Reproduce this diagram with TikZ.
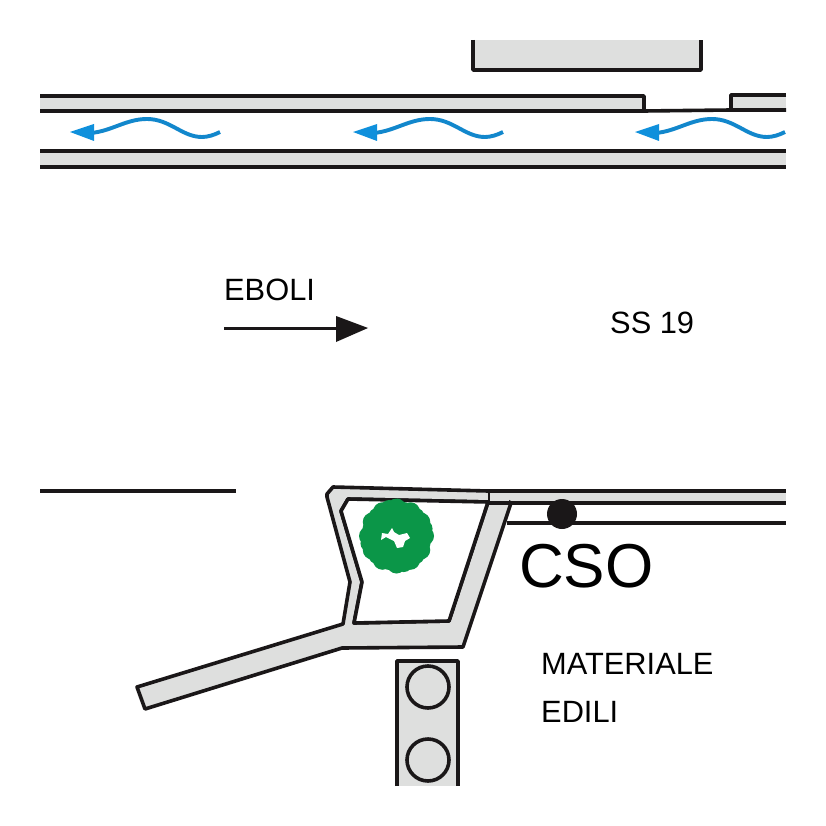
\documentclass[tikz,border=0pt]{standalone}
\usepackage{fontspec}
\setmainfont{Liberation Sans}
\definecolor{roadgray}{HTML}{DEDFDE}
\definecolor{ink}{HTML}{1A1718}
\definecolor{flow}{HTML}{1287CC}
\definecolor{flowhead}{HTML}{0F90DC}
\definecolor{bush}{HTML}{0B9648}
\tikzset{
  road/.style={fill=roadgray,draw=ink,line width=3.6pt,line join=round},
  edge/.style={draw=ink,line width=3.6pt},
  lbl/.style={anchor=base west,inner sep=0pt,text=black},
  med/.style={lbl,font=\fontsize{30.8}{30.8}\selectfont},
  wave/.style={draw=flow,line width=3.9pt},
  head/.style={fill=flowhead,draw=none},
  leaf/.style={fill=bush,draw=none}
}
\begin{document}
\begin{tikzpicture}[x=1pt,y=-1pt]
\useasboundingbox (0,0) rectangle (826,826);
\fill[white] (0,0) rectangle (826,826);
% top building
\fill[roadgray] (473,40) rectangle (701,70);
\draw[edge,line join=round] (473,40) -- (473,70) -- (701,70) -- (701,40);
% upper road
\fill[roadgray] (40,96) rectangle (644,111);
\draw[edge,line join=round] (40,96) -- (644,96) -- (644,111);
\fill[roadgray] (731,95) rectangle (786,110);
\draw[edge,line join=round] (786,95) -- (731,95) -- (731,110);
\draw[edge] (40,111) -- (644,111) -- (731,110) -- (786,110);
\fill[roadgray] (40,151) rectangle (786,167);
\draw[edge] (40,151) -- (786,151);
\draw[edge] (40,167) -- (786,167);
% flow arrows
\foreach \dx in {0,283,565}{
  \begin{scope}[xshift=\dx pt]
    \draw[wave] (91,133) .. controls (112,131) and (126,119) .. (147,119)
      .. controls (170,119) and (182,137) .. (202,137) .. controls (208,137) and (214,135) .. (220,132);
    \fill[head] (70,132) -- (94,124) -- (94,141) -- cycle;
  \end{scope}
}
% direction arrow
\draw[edge,line width=3pt] (224,328) -- (340,328);
\fill[ink] (336,316) -- (368,328) -- (336,342) -- cycle;
\node[med] (eboli) at (224,300) {EBOLI};
\node[med] (ss) at (610,333) {SS 19};
% left kerb
\draw[edge] (40,491) -- (236,491);
% side road
\draw[edge] (507,523) -- (786,523);
\fill[roadgray] (488,491) rectangle (786,503);
\draw[edge] (488,491) -- (786,491);
\draw[edge] (488,503) -- (786,503);
% island
\draw[road,even odd rule] (333,487) -- (488,491) -- (511,503) -- (463,647) -- (342,648) -- (145,709) -- (137,687) -- (343,624) -- (350,582) -- (327,497) -- (327,494) -- cycle
  (348,499) -- (488,502) -- (449,621) -- (354,623) -- (362,582) -- (341,511) -- cycle;
\fill[white] (348,499) -- (488,502) -- (449,621) -- (354,623) -- (362,582) -- (341,511) -- cycle;
\draw[edge,line join=round] (348,499) -- (488,502) -- (449,621) -- (354,623) -- (362,582) -- (341,511) -- cycle;
\fill[roadgray] (490,493) rectangle (509,501);
\draw[edge,line width=2.4pt] (489,491) -- (489,503);
\draw[edge] (488,491) -- (511,491);
\draw[edge] (488,503) -- (511,503);
% bush
\fill[leaf] (396,536) circle (30);
\foreach \a in {0,30,...,330}{
  \fill[leaf] (396.5,536) ++(\a:28) circle (9.5);
}
\foreach \a/\r in {15/26,45/27,75/28,105/26,135/27,165/28,195/26,225/27,255/28,285/26,315/27,345/28}{
  \fill[leaf] (396.5,536) ++(\a:\r) circle (9);
}
\fill[white] (381,540) -- (382,533) -- (388,534) -- (392,528) -- (394,532) -- (399,535) -- (407,533) -- (410,538) -- (405,541) -- (403,547) -- (397,548) -- (394,541) -- (386,537) -- cycle;
% traffic block
\fill[roadgray] (397,661) rectangle (458,786);
\draw[edge,line join=round] (397,786) -- (397,661) -- (458,661) -- (458,786);
\draw[edge,fill=roadgray] (428,687) circle (21);
\draw[edge,fill=roadgray] (428,760) circle (21);
% dot
\fill[ink] (562,514) circle (15);
% labels
\node[lbl,font=\fontsize{62}{62}\selectfont] (cso) at (519,587) {CSO};
\node[med] (mat) at (541,674) {MATERIALE};
\node[med] (edi) at (541,722) {EDILI};
\end{tikzpicture}
\end{document}
